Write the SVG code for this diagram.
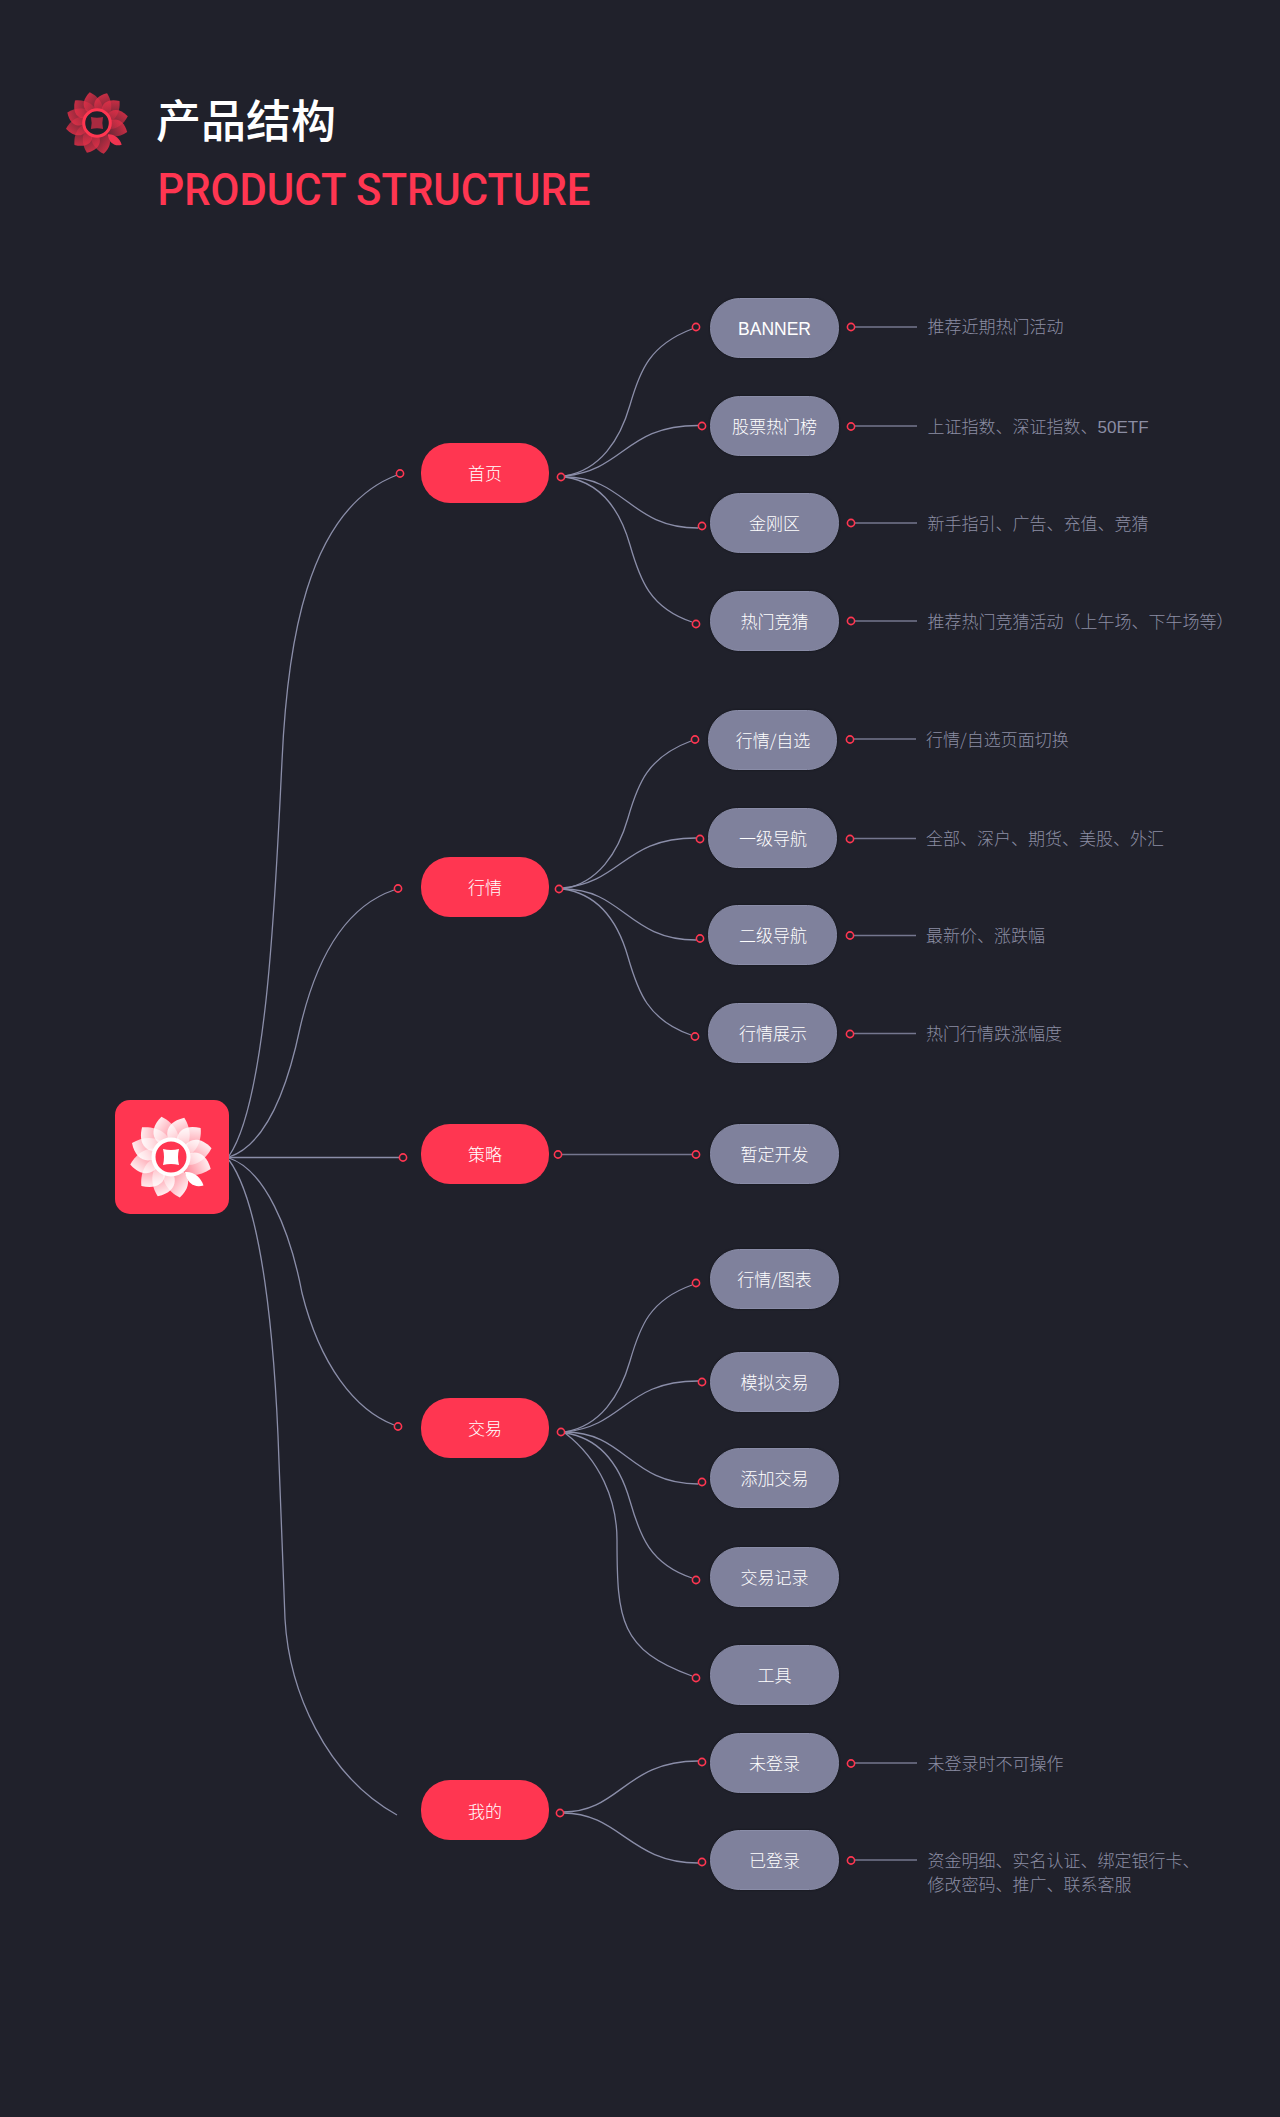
<svg xmlns="http://www.w3.org/2000/svg" xmlns:xlink="http://www.w3.org/1999/xlink" width="1280" height="2117" viewBox="0 0 1280 2117">
<style>
text{font-family:"Noto Sans CJK SC","Noto Sans",sans-serif;font-weight:300}
.red{fill:#ff3651}
.lt{fill:#7f819c;stroke:#8a8da8;stroke-width:1;filter:drop-shadow(0 0 1px #12131a)}
.lb{fill:#fff;font-size:17px;text-anchor:middle}
.ds{fill:#8b8da3;font-size:17px}
.la{font-family:"Liberation Sans",sans-serif}
.cn path,.cn line{fill:none;stroke:#8b8ea9;stroke-width:1.3}
.cn line.t{stroke:#75778f;stroke-width:1.5}
.cn circle{fill:#20212b;stroke:#ff3651;stroke-width:1.6}
</style>
<defs>
<linearGradient id="gW" x1="0.05" y1="0.1" x2="0.8" y2="1"><stop offset="0" stop-color="#fff" stop-opacity=".98"/><stop offset="1" stop-color="#fff" stop-opacity=".3"/></linearGradient>
<linearGradient id="gR" x1="0.05" y1="0.1" x2="0.8" y2="1"><stop offset="0" stop-color="#e83049" stop-opacity=".9"/><stop offset="1" stop-color="#e83049" stop-opacity=".25"/></linearGradient>
<path id="pt" d="M6,-8C-14,-10-24,-26-6,-41C6,-34 14,-20 6,-8Z"/>
<path id="leaf" d="M14,15C22,14 30,20 32.5,28.5C24,31 16,27 14,15Z"/>
<path id="dia" d="M-8,-8Q0,-6 8,-8Q6,0 8,8Q0,6-8,8Q-6,0-8,-8Z"/>
</defs>
<rect width="1280" height="2117" fill="#20212b"/>
<g id="logo" transform="translate(97,123) scale(.76)">
<g fill="url(#gR)" transform="rotate(8)">
<use xlink:href="#pt" href="#pt" transform="rotate(-13)"/><use xlink:href="#pt" href="#pt" transform="rotate(19)"/><use xlink:href="#pt" href="#pt" transform="rotate(46)"/><use xlink:href="#pt" href="#pt" transform="rotate(78)"/><use xlink:href="#pt" href="#pt" transform="rotate(107)"/><use xlink:href="#pt" href="#pt" transform="rotate(168)"/><use xlink:href="#pt" href="#pt" transform="rotate(199)"/><use xlink:href="#pt" href="#pt" transform="rotate(226)"/><use xlink:href="#pt" href="#pt" transform="rotate(260)"/><use xlink:href="#pt" href="#pt" transform="rotate(290)"/><use xlink:href="#pt" href="#pt" transform="rotate(316)"/>
</g>
<use xlink:href="#leaf" href="#leaf" fill="#ef3450"/>
<circle r="17.5" fill="#20212b" stroke="#ff3651" stroke-width="4"/>
<use xlink:href="#dia" href="#dia" fill="#a92a40"/>
</g>
<text x="156" y="138" font-size="45" style="font-weight:500" fill="#fff">产品结构</text>
<text x="157.500" y="205" font-size="45" fill="#ff3651" textLength="433" lengthAdjust="spacingAndGlyphs" style="font-family:Roboto,'Liberation Sans',sans-serif;font-weight:500">PRODUCT STRUCTURE</text>

<g id="connectors" class="cn">
<path d="M229,1156C268,1100 276,880 282,761C287,650 305,510 397,475"/>
<path d="M229,1157C265,1145 287,1090 300,1028C318,950 350,905 394,890"/>
<line x1="229" y1="1157.5" x2="400" y2="1157.5"/>
<path d="M229,1158C265,1170 290,1230 302,1293C320,1365 355,1410 394,1425"/>
<path d="M229,1160C262,1205 275,1340 279,1462C281,1520 283,1560 285,1619C289,1690 325,1775 397,1815"/>
<path d="M565,476C600,470 620,440 630,405C640,370 650,345 692,329"/>
<path d="M565,476C625,470 625,425.500 698,425.500"/>
<path d="M565,477C625,477 630,528 698,528"/>
<path d="M565,477C600,482 620,510 630,545C640,580 650,608 692,622"/>
<path d="M563,889C598,883 618,853 628,818C638,783 648,757 691,741"/>
<path d="M563,888C623,882 623,838 696,838"/>
<path d="M563,889C623,889 628,940 696,940"/>
<path d="M563,889C598,894 618,922 628,957C638,992 648,1020 691,1035"/>
<line class="t" x1="561" y1="1154.500" x2="694" y2="1154.500"/>
<path d="M565,1432C600,1426 620,1396 630,1361C640,1326 650,1300 692,1285"/>
<path d="M565,1432C625,1426 625,1381 698,1381"/>
<path d="M565,1432C625,1432 630,1484 698,1484"/>
<path d="M565,1433C600,1438 620,1466 630,1501C640,1536 650,1564 692,1578"/>
<path d="M565,1433C600,1460 617,1500 617,1540C617,1620 620,1650 692,1676"/>
<path d="M563,1812C620,1812 625,1761 698,1761"/>
<path d="M563,1813C620,1813 630,1863 698,1863"/>
<line class="t" x1="853" y1="327" x2="917" y2="327"/>
<line class="t" x1="853" y1="426" x2="917" y2="426"/>
<line class="t" x1="853" y1="523" x2="917" y2="523"/>
<line class="t" x1="853" y1="621" x2="917" y2="621"/>
<line class="t" x1="852" y1="739" x2="916" y2="739"/>
<line class="t" x1="852" y1="838.500" x2="916" y2="838.500"/>
<line class="t" x1="852" y1="935.500" x2="916" y2="935.500"/>
<line class="t" x1="852" y1="1033.500" x2="916" y2="1033.500"/>
<line class="t" x1="853" y1="1763" x2="917" y2="1763"/>
<line class="t" x1="853" y1="1860" x2="917" y2="1860"/>
<circle cx="400" cy="473.500" r="3.600"/><circle cx="398" cy="888.500" r="3.600"/><circle cx="403" cy="1157.500" r="3.600"/><circle cx="398" cy="1426.500" r="3.600"/>
<circle cx="561" cy="477" r="3.600"/><circle cx="559" cy="889" r="3.600"/><circle cx="558" cy="1154.500" r="3.600"/><circle cx="561" cy="1432" r="3.600"/><circle cx="560" cy="1813" r="3.600"/>
<circle cx="696" cy="327" r="3.600"/><circle cx="702" cy="426" r="3.600"/><circle cx="702" cy="526" r="3.600"/><circle cx="696" cy="624" r="3.600"/>
<circle cx="695" cy="739.500" r="3.600"/><circle cx="700" cy="839" r="3.600"/><circle cx="700" cy="938.500" r="3.600"/><circle cx="695" cy="1036.500" r="3.600"/>
<circle cx="696" cy="1154.500" r="3.600"/>
<circle cx="696" cy="1283" r="3.600"/><circle cx="702" cy="1382" r="3.600"/><circle cx="702" cy="1482" r="3.600"/><circle cx="696" cy="1580" r="3.600"/><circle cx="696" cy="1678" r="3.600"/>
<circle cx="702" cy="1762" r="3.600"/><circle cx="702" cy="1862" r="3.600"/>
<circle cx="851" cy="327" r="3.600"/><circle cx="851" cy="426.500" r="3.600"/><circle cx="851" cy="523" r="3.600"/><circle cx="851" cy="621" r="3.600"/>
<circle cx="850" cy="739.500" r="3.600"/><circle cx="850" cy="839" r="3.600"/><circle cx="850" cy="935.500" r="3.600"/><circle cx="850" cy="1034" r="3.600"/>
<circle cx="851" cy="1763.500" r="3.600"/><circle cx="851" cy="1860.500" r="3.600"/>
</g>

<g id="root">
<rect x="115" y="1100" width="114" height="114" rx="15" class="red"/>
<g transform="translate(171,1157)">
<g fill="url(#gW)" transform="rotate(8)">
<use xlink:href="#pt" href="#pt" transform="rotate(-13)"/><use xlink:href="#pt" href="#pt" transform="rotate(19)"/><use xlink:href="#pt" href="#pt" transform="rotate(46)"/><use xlink:href="#pt" href="#pt" transform="rotate(78)"/><use xlink:href="#pt" href="#pt" transform="rotate(107)"/><use xlink:href="#pt" href="#pt" transform="rotate(168)"/><use xlink:href="#pt" href="#pt" transform="rotate(199)"/><use xlink:href="#pt" href="#pt" transform="rotate(226)"/><use xlink:href="#pt" href="#pt" transform="rotate(260)"/><use xlink:href="#pt" href="#pt" transform="rotate(290)"/><use xlink:href="#pt" href="#pt" transform="rotate(316)"/>
</g>
<use xlink:href="#leaf" href="#leaf" fill="#fff"/>
<circle r="17.500" fill="#ff3651" stroke="#fff" stroke-width="4"/>
<use xlink:href="#dia" href="#dia" fill="#fff"/>
</g>
</g>

<g id="n-home"><rect x="421" y="443" width="128" height="60" rx="29" class="red"/><text x="485" y="480" class="lb">首页</text></g>
<g id="n-market"><rect x="421" y="857" width="128" height="60" rx="29" class="red"/><text x="485" y="894" class="lb">行情</text></g>
<g id="n-strategy"><rect x="421" y="1124" width="128" height="60" rx="29" class="red"/><text x="485" y="1161" class="lb">策略</text></g>
<g id="n-trade"><rect x="421" y="1398" width="128" height="60" rx="29" class="red"/><text x="485" y="1435" class="lb">交易</text></g>
<g id="n-mine"><rect x="421" y="1780" width="128" height="60" rx="29" class="red"/><text x="485" y="1818" class="lb">我的</text></g>

<g id="n-banner"><rect x="710.500" y="298.500" width="128" height="59" rx="29" class="lt"/><text x="774.500" y="335" class="lb la" style="font-size:17.5px;font-family:'Liberation Sans',sans-serif">BANNER</text></g>
<g id="n-hot"><rect x="710.500" y="396.500" width="128" height="59" rx="29" class="lt"/><text x="774.500" y="433" class="lb">股票热门榜</text></g>
<g id="n-kk"><rect x="710.500" y="493.500" width="128" height="59" rx="29" class="lt"/><text x="774.500" y="530" class="lb">金刚区</text></g>
<g id="n-guess"><rect x="710.500" y="591.500" width="128" height="59" rx="29" class="lt"/><text x="774.500" y="628" class="lb">热门竞猜</text></g>
<g id="n-m1"><rect x="708.500" y="710.500" width="128" height="59" rx="29" class="lt"/><text x="773" y="747" class="lb">行情/自选</text></g>
<g id="n-m2"><rect x="708.500" y="808.500" width="128" height="59" rx="29" class="lt"/><text x="773" y="845" class="lb">一级导航</text></g>
<g id="n-m3"><rect x="708.500" y="905.500" width="128" height="59" rx="29" class="lt"/><text x="773" y="942" class="lb">二级导航</text></g>
<g id="n-m4"><rect x="708.500" y="1003.500" width="128" height="59" rx="29" class="lt"/><text x="773" y="1040" class="lb">行情展示</text></g>
<g id="n-s1"><rect x="710.500" y="1124.500" width="128" height="59" rx="29" class="lt"/><text x="774.500" y="1161" class="lb">暂定开发</text></g>
<g id="n-t1"><rect x="710.500" y="1249.500" width="128" height="59" rx="29" class="lt"/><text x="774.500" y="1286" class="lb">行情/图表</text></g>
<g id="n-t2"><rect x="710.500" y="1352.500" width="128" height="59" rx="29" class="lt"/><text x="774.500" y="1389" class="lb">模拟交易</text></g>
<g id="n-t3"><rect x="710.500" y="1448.500" width="128" height="59" rx="29" class="lt"/><text x="774.500" y="1485" class="lb">添加交易</text></g>
<g id="n-t4"><rect x="710.500" y="1547.500" width="128" height="59" rx="29" class="lt"/><text x="774.500" y="1584" class="lb">交易记录</text></g>
<g id="n-t5"><rect x="710.500" y="1645.500" width="128" height="59" rx="29" class="lt"/><text x="774.500" y="1682" class="lb">工具</text></g>
<g id="n-u1"><rect x="710.500" y="1733.500" width="128" height="59" rx="29" class="lt"/><text x="774.500" y="1770" class="lb">未登录</text></g>
<g id="n-u2"><rect x="710.500" y="1830.500" width="128" height="59" rx="29" class="lt"/><text x="774.500" y="1867" class="lb">已登录</text></g>

<g id="notes">
<text x="927.500" y="333" class="ds">推荐近期热门活动</text>
<text x="927.500" y="433" class="ds">上证指数、深证指数、<tspan class="la">50ETF</tspan></text>
<text x="927.500" y="530" class="ds">新手指引、广告、充值、竞猜</text>
<text x="927.500" y="628" class="ds">推荐热门竞猜活动（上午场、下午场等）</text>
<text x="926" y="746" class="ds">行情/自选页面切换</text>
<text x="926" y="845" class="ds">全部、深户、期货、美股、外汇</text>
<text x="926" y="942" class="ds">最新价、涨跌幅</text>
<text x="926" y="1040" class="ds">热门行情跌涨幅度</text>
<text x="927.500" y="1770" class="ds">未登录时不可操作</text>
<text x="927.500" y="1867" class="ds">资金明细、实名认证、绑定银行卡、</text>
<text x="927.500" y="1891" class="ds">修改密码、推广、联系客服</text>
</g>
</svg>
